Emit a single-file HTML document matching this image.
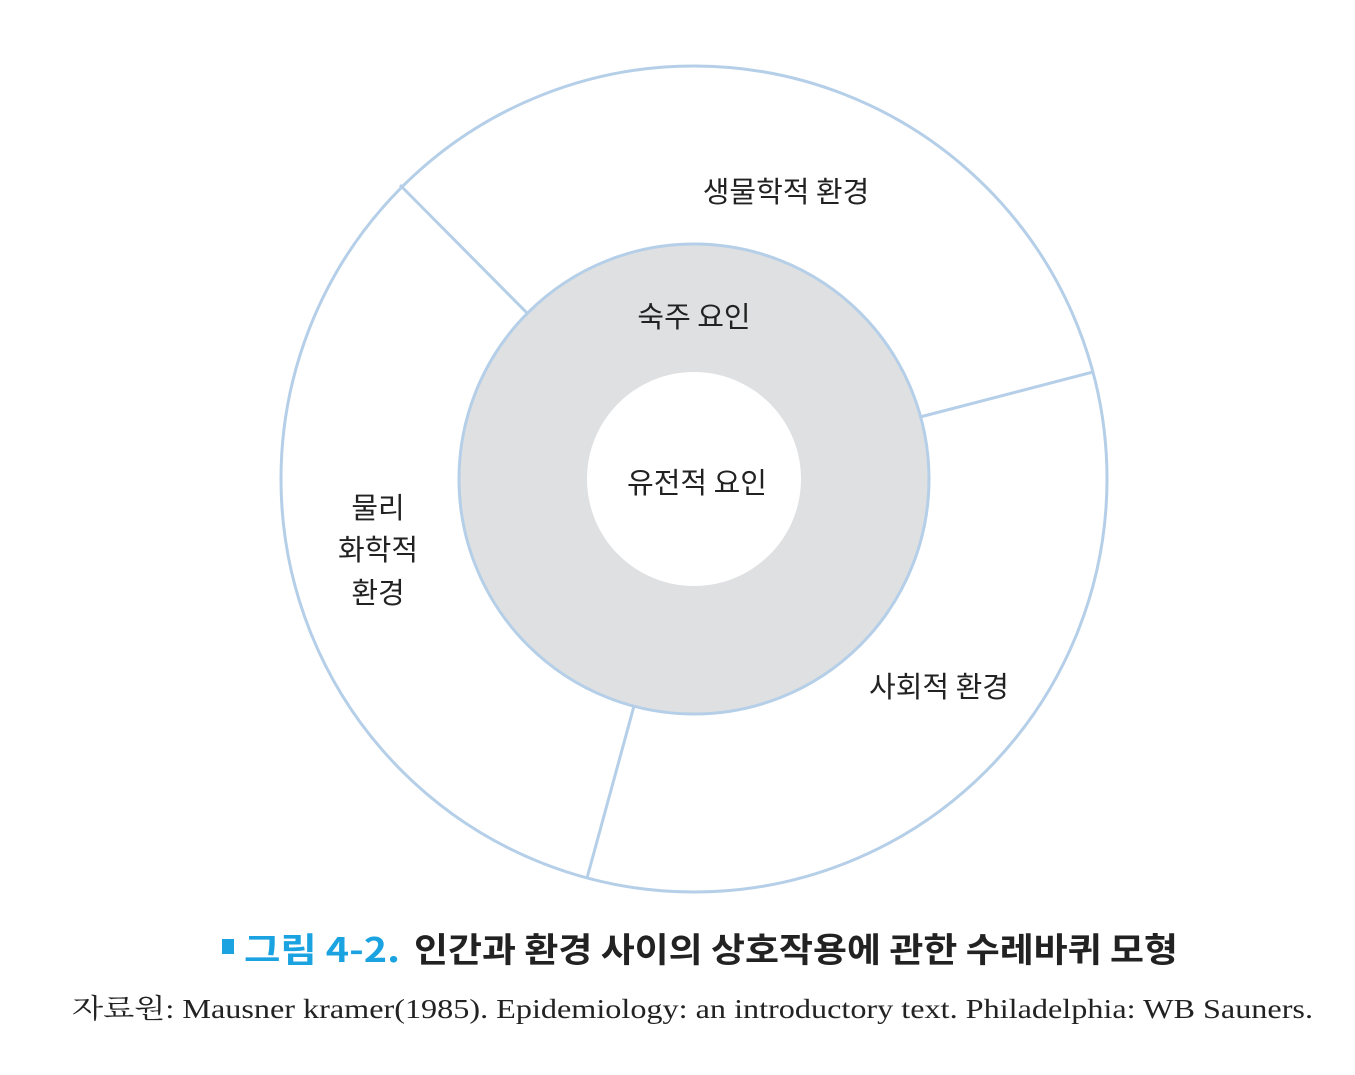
<!DOCTYPE html>
<html><head><meta charset="utf-8"><style>html,body{margin:0;padding:0;background:#fff}</style></head>
<body>
<svg width="1355" height="1070" viewBox="0 0 1355 1070" xmlns="http://www.w3.org/2000/svg">
<circle cx="694" cy="479" r="413" fill="#fff" stroke="#b5cfe8" stroke-width="3"/>
<circle cx="694" cy="479" r="235" fill="#dfe0e2" stroke="#b5cfe8" stroke-width="3"/>
<circle cx="694" cy="479" r="107" fill="#fff"/>
<g stroke="#b5cfe8" stroke-width="3">
<line x1="400" y1="185" x2="528" y2="314"/>
<line x1="920" y1="417" x2="1093" y2="372"/>
<line x1="634" y1="706" x2="587" y2="878"/>
</g>
<g font-family="'Noto Sans CJK KR','NanumGothic',sans-serif" font-size="29" fill="#222" text-anchor="middle">
<text x="786" y="202">생물학적 환경</text>
<text x="694" y="327">숙주 요인</text>
<text x="697" y="493">유전적 요인</text>
<text x="378" y="518">물리</text>
<text x="378" y="560">화학적</text>
<text x="378" y="603">환경</text>
<text x="939" y="697">사회적 환경</text>
</g>
<rect x="222" y="939" width="12" height="15" fill="#1aa3e0"/>
<text x="244" y="962" font-family="'Noto Sans CJK KR','NanumGothic',sans-serif" font-weight="bold" font-size="34" fill="#1aa3e0" textLength="156" lengthAdjust="spacingAndGlyphs">그림 4-2.</text>
<text x="414" y="962" font-family="'Noto Sans CJK KR','NanumGothic',sans-serif" font-weight="bold" font-size="34" fill="#222" textLength="764" lengthAdjust="spacingAndGlyphs">인간과 환경 사이의 상호작용에 관한 수레바퀴 모형</text>
<text x="72" y="1018" font-family="'Liberation Serif','Noto Serif CJK SC',serif" font-size="27" fill="#222" textLength="1241" lengthAdjust="spacingAndGlyphs">자료원: Mausner kramer(1985). Epidemiology: an introductory text. Philadelphia: WB Sauners.</text>
</svg>
</body></html>
